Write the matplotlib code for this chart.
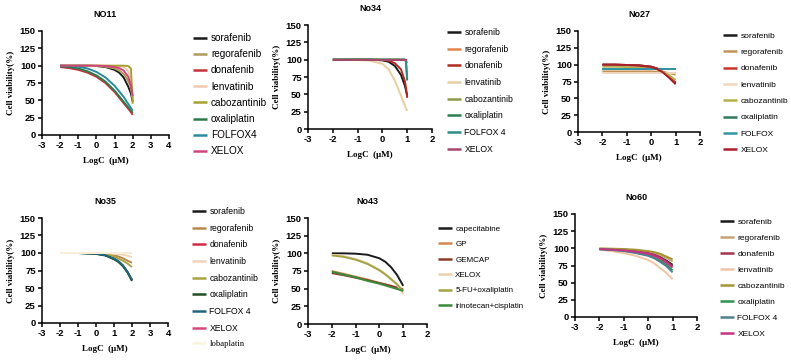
import matplotlib
matplotlib.use("Agg")
import matplotlib.pyplot as plt

plt.rcParams["font.family"] = ["Liberation Sans", "DejaVu Sans"]
plt.rcParams["axes.unicode_minus"] = False

# ---- NO11 ----
logc_no11 = [-2, -1.5, -1, -0.5, 0, 0.5, 1, 1.25, 1.5, 1.75, 1.9, 2]
drugs_no11 = ["sorafenib", "regorafenib", "donafenib", "lenvatinib",
              "cabozantinib", "oxaliplatin", "FOLFOX4", "XELOX"]
via_no11 = [
    [100, 100, 100, 100, 99.5, 98, 94, 90, 83, 70, 60, 48],
    [100, 100, 100, 100, 99.5, 98.5, 96, 93, 88, 78, 68, 52],
    [98, 96.5, 94, 90, 84, 75, 62, 54, 46, 38, 33, 29],
    [100, 100, 100, 100, 100, 100, 99.5, 99, 98, 92, 80, 55],
    [100, 100, 100, 100, 100, 100, 100, 100, 100, 99.5, 96, 45],
    [99, 98, 96, 92, 86, 77, 64, 56, 48, 40, 36, 32],
    [100, 99.5, 98.5, 96, 91, 83, 71, 63, 55, 45, 39, 35],
    [100, 100, 100, 100, 100, 99.5, 98, 96.5, 93, 84, 72, 56],
]
colors_no11 = ["#1a1a1a", "#b09a5c", "#c8323c", "#f2c9b0",
               "#a6a232", "#2f7a4c", "#2a8ca0", "#d0457a"]

# ---- No34 ----
logc_no34 = [-2, -1.5, -1, -0.5, 0, 0.25, 0.5, 0.75, 0.9, 0.95, 1]
drugs_no34 = ["sorafenib", "regorafenib", "donafenib", "lenvatinib",
              "cabozantinib", "oxaliplatin", "FOLFOX 4", "XELOX"]
via_no34 = [
    [100, 100, 100, 100, 99, 97, 91, 78, 63, 56, 48],
    [100, 100, 100, 100, 100, 100, 100, 100, 100, 100, 99.5],
    [100, 100, 100, 100, 99.5, 98.5, 95, 86, 70, 60, 45],
    [100, 100, 99.5, 98.5, 94, 86, 70, 48, 34, 30, 26],
    [100, 100, 100, 100, 100, 100, 100, 100, 100, 99, 95],
    [100, 100, 100, 100, 100, 100, 100, 100, 100, 98, 70],
    [100, 100, 100, 100, 100, 100, 100, 100, 100, 97, 72],
    [100, 100, 100, 100, 100, 100, 100, 100, 100, 100, 100],
]
colors_no34 = ["#1a1a1a", "#e0844a", "#b02a22", "#e8cfa0",
               "#8e9a50", "#2f7d52", "#2e8c8c", "#a8486a"]

# ---- No27 ----
logc_no27 = [-2, -1.5, -1, -0.5, 0, 0.25, 0.5, 0.75, 1]
drugs_no27 = ["sorafenib", "regorafenib", "donafenib", "lenvatinib",
              "cabozantinib", "oxaliplatin", "FOLFOX", "XELOX"]
via_no27 = [
    [100, 100, 99.5, 99, 97, 94, 88, 81, 72],
    [90, 90, 90, 90, 90, 89.5, 89, 87.5, 85],
    [100, 100, 99.5, 99, 97, 94.5, 89, 82, 74],
    [88, 88, 88, 88, 88, 88, 88, 88, 88],
    [97, 97, 96.5, 96, 95, 93, 89, 84, 77],
    [94, 94, 94, 94, 94, 94, 94, 94, 94],
    [93, 93, 93, 93, 93, 93, 93, 93, 93],
    [100, 100, 99.5, 98.5, 96.5, 93.5, 88, 80, 71],
]
colors_no27 = ["#1a1a1a", "#c49456", "#c8362a", "#f2d6bc",
               "#b4b04a", "#2f7a5a", "#3494a4", "#a8202e"]

# ---- No35 ----
logc_no35 = [-2, -1.5, -1, -0.5, 0, 0.5, 1, 1.25, 1.5, 1.75, 2]
drugs_no35 = ["sorafenib", "regorafenib", "donafenib", "lenvatinib",
              "cabozantinib", "oxaliplatin", "FOLFOX 4", "XELOX", "lobaplatin"]
via_no35 = [
    [100, 100, 100, 99.5, 99, 97, 92, 88, 82, 73, 61],
    [100, 100, 100, 100, 99.5, 98.5, 96.5, 95, 92.5, 89, 86],
    [100, 100, 100, 100, 100, 100, 100, 100, 100, 100, 100],
    [100, 100, 100, 100, 100, 99.5, 99, 98.5, 97.5, 96, 94],
    [100, 100, 100, 100, 99.5, 98.5, 95, 92, 89, 85, 80],
    [100, 100, 100, 99.5, 98.8, 96.5, 91, 87, 81, 72, 60],
    [100, 100, 100, 99.5, 99, 97, 92, 88, 82, 73, 62],
    [100, 100, 100, 100, 100, 100, 100, 100, 100, 100, 100],
    [100, 100, 100, 100, 100, 100, 100, 100, 100, 100, 100],
]
colors_no35 = ["#1a1a1a", "#b8884a", "#d42a44", "#f2d4b8",
               "#a8a444", "#1f4f24", "#22667e", "#d4487a", "#fbf3dc"]

# ---- No43 ----
logc_no43 = [-2, -1.5, -1, -0.5, 0, 0.25, 0.5, 0.75, 1]
drugs_no43 = ["capecitabine", "GP", "GEMCAP", "XELOX",
              "5-FU+oxaliplatin", "irinotecan+cisplatin"]
via_no43 = [
    [100, 100, 99.5, 98, 93, 88, 80, 69, 54],
    [75, 71, 67, 63, 58, 56, 53, 50, 47],
    [72, 69, 65.5, 62, 58, 56, 54, 51.5, 49],
    [98, 96, 92, 86, 77, 71, 64, 55, 42],
    [97, 95, 91, 85, 76, 70, 63, 56, 46],
    [74, 70, 66, 61, 57, 54.5, 52, 49.5, 47],
]
colors_no43 = ["#1a1a1a", "#d4884c", "#8c3a2c", "#ead2ac",
               "#a4a444", "#3a8a3a"]

# ---- No60 ----
logc_no60 = [-2, -1.5, -1, -0.5, 0, 0.25, 0.5, 0.75, 1]
drugs_no60 = ["sorafenib", "regorafenib", "donafenib", "lenvatinib",
              "cabozantinib", "oxaliplatin", "FOLFOX 4", "XELOX"]
via_no60 = [
    [99, 98.5, 98, 96.5, 94, 91, 87, 82, 76],
    [99, 98.5, 98, 97, 95, 93, 90, 86, 81],
    [99, 98.5, 97.5, 96, 93, 90.5, 87, 81, 74],
    [98, 96, 93, 89, 83, 78, 71, 64, 55],
    [100, 99.5, 99, 98, 96, 94.5, 92, 88, 84],
    [99, 98, 96.5, 94, 90, 86.5, 82, 76, 68],
    [98.5, 97.5, 96, 93, 89, 85.5, 80, 74, 65],
    [99, 98, 97, 95, 92, 89, 85, 79, 72],
]
colors_no60 = ["#1a1a1a", "#c4a474", "#a43452", "#f2c4a4",
               "#a49434", "#2f9454", "#50808e", "#c43486"]

W, H = 791, 360


# draw one panel, positions given in pixels of the final image
def panel(fig, box, title, logc, drugs, via, colors, xmax, leg_xy, leg_fs, spacing):
    l, t, r, b = box
    ax = fig.add_axes([l / W, 1 - b / H, (r - l) / W, (b - t) / H])
    for name, ys, c in zip(drugs, via, colors):
        ax.plot(logc, ys, color=c, lw=1.4, label=name, solid_capstyle="butt")
    ax.set_xlim(-3, xmax)
    ax.set_ylim(0, 150)
    ax.set_xticks(range(-3, xmax + 1))
    ax.set_yticks([0, 25, 50, 75, 100, 125, 150])
    for s in ["top", "right"]:
        ax.spines[s].set_visible(False)
    for s in ["left", "bottom"]:
        ax.spines[s].set_linewidth(1.1)
    ax.tick_params(length=3, width=1.1, pad=1.5, labelsize=6.8)
    for lab in ax.get_xticklabels() + ax.get_yticklabels():
        lab.set_fontweight("bold")
    ax.set_title(title, fontsize=6.5, fontweight="bold", pad=10)
    ax.set_ylabel("Cell viability(%)", fontsize=6.5, fontweight="bold",
                  family="Liberation Serif", labelpad=3)
    ax.set_xlabel("LogC  (μM)", fontsize=6.5, fontweight="bold",
                  family="Liberation Serif", labelpad=5)
    hl = 14 / (leg_fs * 100 / 72)
    leg = ax.legend(loc="upper left", bbox_to_anchor=(leg_xy[0] / W, 1 - leg_xy[1] / H),
                    bbox_transform=fig.transFigure,
                    frameon=False, fontsize=leg_fs, handlelength=hl, handletextpad=0.4,
                    borderpad=0, borderaxespad=0, labelspacing=spacing)
    for line in leg.get_lines():
        line.set_linewidth(1.8)
    return ax, leg


fig = plt.figure(figsize=(W / 100, H / 100), dpi=100)

panel(fig, (42, 31, 169, 135), "NO11", logc_no11, drugs_no11, via_no11,
      colors_no11, 4, (193, 33), 7.2, 0.62)
panel(fig, (308, 25, 432, 129), "No34", logc_no34, drugs_no34, via_no34,
      colors_no34, 2, (447, 28), 6.2, 0.89)
panel(fig, (578, 31, 700, 132), "No27", logc_no27, drugs_no27, via_no27,
      colors_no27, 2, (723, 32), 6.0, 1.02)
ax4, leg4 = panel(fig, (42, 218, 168, 323), "No35", logc_no35, drugs_no35, via_no35,
                  colors_no35, 4, (192, 207), 6.2, 0.89)
leg4.get_texts()[-1].set_family("Liberation Serif")
panel(fig, (308, 218, 427, 324), "No43", logc_no43, drugs_no43, via_no43,
      colors_no43, 2, (438, 225), 5.8, 0.97)
panel(fig, (575, 214, 697, 317), "No60", logc_no60, drugs_no60, via_no60,
      colors_no60, 2, (720, 218), 6.0, 0.99)

fig.savefig("out.png", dpi=100)
